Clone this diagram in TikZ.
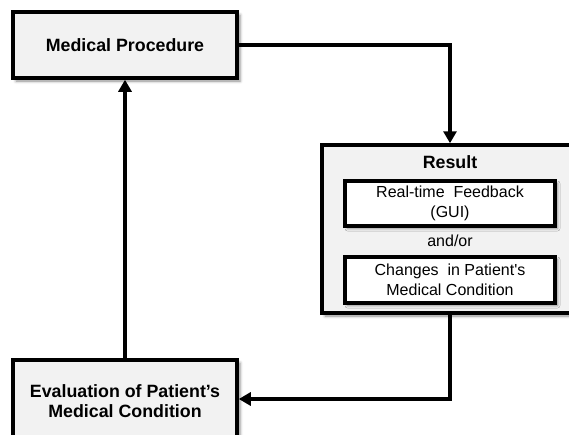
\documentclass[tikz,border=0pt]{standalone}
\usepackage{fontspec}
\setmainfont{Liberation Sans}
% same face without the TeX quote mapping, for straight apostrophes
\newfontfamily\plainface{Liberation Sans}
\usetikzlibrary{arrows.meta,shadows.blur}
\definecolor{boxgray}{HTML}{F2F2F2}
\begin{document}
\begin{tikzpicture}[x=1pt,y=-1pt,
  outerbox/.style={draw=black, line width=3.5pt, fill=boxgray, inner sep=0pt,
    blur shadow={shadow xshift=3pt, shadow yshift=-3pt, shadow blur radius=3pt, shadow opacity=45}},
  innerbox/.style={draw=black, line width=3.5pt, fill=white, inner sep=0pt, align=center,
    font=\plainface\fontsize{16}{20.5}\selectfont,
    blur shadow={shadow xshift=2.5pt, shadow yshift=-2.5pt, shadow blur radius=2.5pt, shadow opacity=45}},
  boldtext/.style={font=\fontsize{17.8}{19.5}\bfseries\selectfont, align=center, inner sep=0pt},
  plaintext/.style={font=\fontsize{16}{20}\selectfont, align=center, inner sep=0pt},
  flow/.style={line width=4pt, -{Triangle[length=12pt,width=13pt]}}]
\useasboundingbox (0,0) rectangle (569,434);
\clip (0,0) rectangle (569,434);

% Medical procedure
\node[outerbox, boldtext, minimum width=224pt, minimum height=66pt] (mp) at (125,45) {Medical Procedure};

% Result with its two outcomes
\node[outerbox, minimum width=256pt, minimum height=168pt] (res) at (450,229) {};
\node[boldtext] (restitle) at (450,162) {Result};
\node[innerbox, minimum width=210pt, minimum height=45pt] (fb) at (450,203.5) {Real-time\ \ Feedback\\(GUI)};
\node[plaintext] (andor) at (450,241) {and/or};
\node[innerbox, minimum width=210pt, minimum height=46pt] (chg) at (450,280) {Changes\ \ in Patient's\\Medical Condition};

% Evaluation
\node[outerbox, minimum width=224pt, minimum height=100pt] (evalbox) at (125,410) {};
\node[boldtext] (evaltext) at (125,401) {Evaluation of Patient’s\\Medical Condition};
\coordinate (evalin) at (evalbox.east |- 0,399);

% Connectors
\draw[flow] (mp.east) -| (res.north);
\draw[flow] (res.south) |- (evalin);
\draw[flow] (evalbox.north) -- (mp.south);
\end{tikzpicture}
\end{document}
